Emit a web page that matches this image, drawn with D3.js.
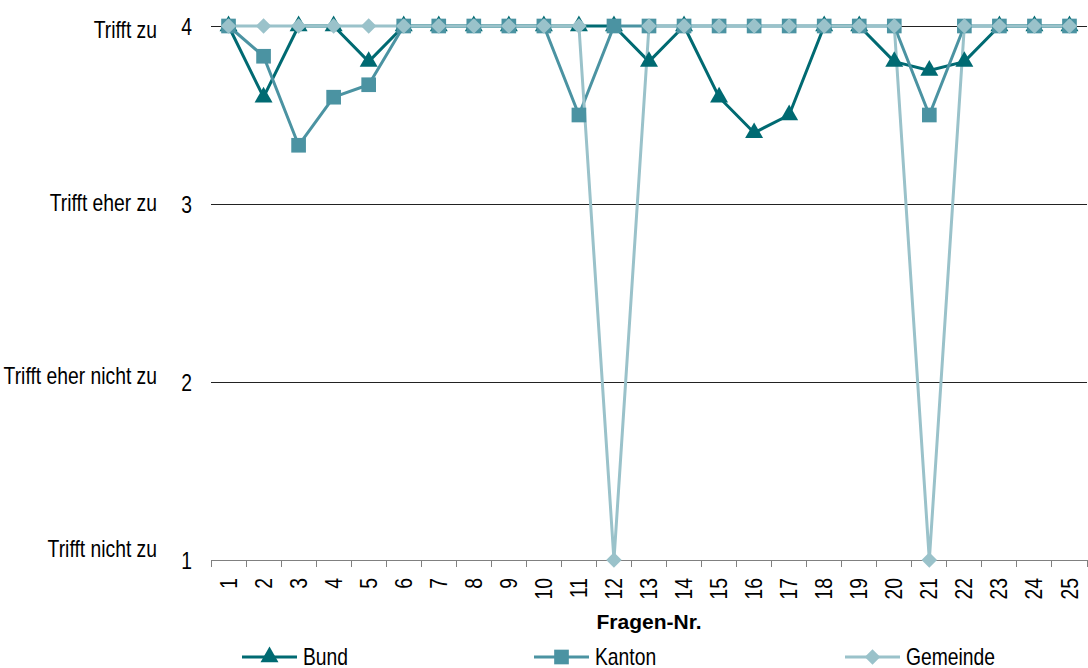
<!DOCTYPE html>
<html>
<head>
<meta charset="utf-8">
<script src="https://cdn.jsdelivr.net/npm/d3@7"></script>
<style>
  html, body { margin: 0; padding: 0; background: #fff; }
  svg { display: block; }
  .lbl { font-family: "Liberation Sans Narrow", "Arial Narrow", "Liberation Sans", Arial, sans-serif; font-size: 23px; fill: #000; }
  .ttl { font-family: "Liberation Sans", Arial, sans-serif; font-size: 21px; font-weight: bold; fill: #000; }
</style>
</head>
<body>
<svg id="chart" width="1088" height="668"></svg>
<script>
// Fragen 1–25, mittlere Bewertung je Ebene (1 = trifft nicht zu … 4 = trifft zu)
const fragen = d3.range(1, 26).map(String);
const bund = [4, 3.6, 4, 4, 3.8, 4, 4, 4, 4, 4, 4, 4, 3.8, 4, 3.6, 3.4, 3.5, 4, 4, 3.8, 3.75, 3.8, 4, 4, 4];
const kanton = [4, 3.83, 3.33, 3.6, 3.67, 4, 4, 4, 4, 4, 3.5, 4, 4, 4, 4, 4, 4, 4, 4, 4, 3.5, 4, 4, 4, 4];
const gemeinde = [4, 4, 4, 4, 4, 4, 4, 4, 4, 4, 4, 1, 4, 4, 4, 4, 4, 4, 4, 4, 1, 4, 4, 4, 4];
const yTicks = [1, 2, 3, 4];
const yKategorien = ["Trifft nicht zu", "Trifft eher nicht zu", "Trifft eher zu", "Trifft zu"];
const serienNamen = ["Bund", "Kanton", "Gemeinde"];

// Raute als um 45° gedrehtes Quadrat
const raute = {
  draw(ctx, size) {
    const r = Math.sqrt(size / 2);
    ctx.moveTo(0, -r); ctx.lineTo(r, 0); ctx.lineTo(0, r); ctx.lineTo(-r, 0); ctx.closePath();
  }
};

const farben = ["#006a72", "#4b93a2", "#9ac2ca"];
const symbole = [d3.symbolTriangle, d3.symbolSquare, raute];
const symbolGroesse = [140, 215, 120];

const serien = serienNamen.map((name, i) => ({
  name, farbe: farben[i], symbol: symbole[i], groesse: symbolGroesse[i],
  werte: [bund, kanton, gemeinde][i]
}));

// schmale Schrift: Liberation Sans horizontal gestaucht
const schmal = "scale(0.84,1)";

const svg = d3.select("#chart");
const plotL = 211, plotR = 1087, plotT = 26, plotB = 560;

const x = d3.scaleBand().domain(fragen).range([plotL, plotR]).padding(0);
const cx = d => x(d) + x.bandwidth() / 2;
const y = d3.scaleLinear().domain([1, 4]).range([plotB, plotT]);
const yText = d3.scaleLinear().domain([1, 4]).range([557, 38]);

// horizontale Gitterlinien
svg.append("g").selectAll("line")
  .data(yTicks.filter(t => t > 1))
  .join("line")
  .attr("x1", plotL).attr("x2", plotR)
  .attr("y1", d => y(d)).attr("y2", d => y(d))
  .attr("stroke", "#222").attr("stroke-width", 1)
  .attr("shape-rendering", "crispEdges");

// y-Achse: Zahlen und Kategorien
const yAxis = svg.append("g")
  .attr("transform", `translate(${plotL - 19},0)`)
  .call(d3.axisLeft(y).tickValues(yTicks).tickFormat(d3.format("d")).tickSize(0).tickPadding(0));
yAxis.attr("font-family", null).attr("font-size", null);
yAxis.select(".domain").remove();
yAxis.selectAll("text").attr("class", "lbl")
  .attr("x", 0).attr("dy", "0.36em")
  .attr("transform", schmal)
  .attr("text-anchor", "end");

svg.append("g").selectAll("text")
  .data(yTicks)
  .join("text")
  .attr("class", "lbl")
  .attr("transform", d => `translate(157,${yText(d)}) ${schmal}`)
  .attr("text-anchor", "end")
  .text((d, i) => yKategorien[i]);

// x-Achse
const xAxis = svg.append("g")
  .attr("transform", `translate(0,${plotB})`)
  .call(d3.axisBottom(x).tickSize(0).tickSizeOuter(0));
xAxis.attr("font-family", null).attr("font-size", null);
xAxis.select(".domain").attr("stroke", "#808080").attr("shape-rendering", "crispEdges");
xAxis.selectAll("text")
  .attr("class", "lbl")
  .attr("transform", `rotate(-90) translate(-18,0) ${schmal}`)
  .attr("x", 0).attr("y", 0).attr("dy", "0.35em")
  .attr("text-anchor", "end");

// Teilstriche an den Kategoriegrenzen
svg.append("g").selectAll("line")
  .data(fragen.map(f => x(f)).concat([plotR]))
  .join("line")
  .attr("x1", d => d).attr("x2", d => d)
  .attr("y1", plotB).attr("y2", plotB + 7)
  .attr("stroke", "#808080").attr("shape-rendering", "crispEdges");

svg.append("text")
  .attr("class", "ttl")
  .attr("x", (plotL + plotR) / 2)
  .attr("y", 629)
  .attr("text-anchor", "middle")
  .text("Fragen-Nr.");

// Linien
const linie = d3.line().x((d, i) => cx(fragen[i])).y(d => y(d));
svg.append("g").selectAll("path")
  .data(serien)
  .join("path")
  .attr("d", s => linie(s.werte))
  .attr("fill", "none")
  .attr("stroke", s => s.farbe)
  .attr("stroke-width", 3)
  .attr("stroke-linejoin", "round");

// Marker
serien.forEach(s => {
  svg.append("g").selectAll("path")
    .data(s.werte)
    .join("path")
    .attr("transform", (d, i) => `translate(${cx(fragen[i])},${y(d)})`)
    .attr("d", d3.symbol().type(s.symbol).size(s.groesse))
    .attr("fill", s.farbe);
});

// Legende
const legendeX = [242, 534, 845];
const legende = svg.append("g").selectAll("g")
  .data(serien)
  .join("g")
  .attr("transform", (s, i) => `translate(${legendeX[i]},657)`);
legende.append("line")
  .attr("x1", 0).attr("x2", 55).attr("y1", 0).attr("y2", 0)
  .attr("stroke", s => s.farbe).attr("stroke-width", 3);
legende.append("path")
  .attr("transform", "translate(27.5,0)")
  .attr("d", s => d3.symbol().type(s.symbol).size(s.groesse)())
  .attr("fill", s => s.farbe);
legende.append("text")
  .attr("class", "lbl")
  .attr("transform", `translate(61,0) ${schmal}`)
  .attr("dy", "0.34em")
  .text(s => s.name);
</script>
</body>
</html>
